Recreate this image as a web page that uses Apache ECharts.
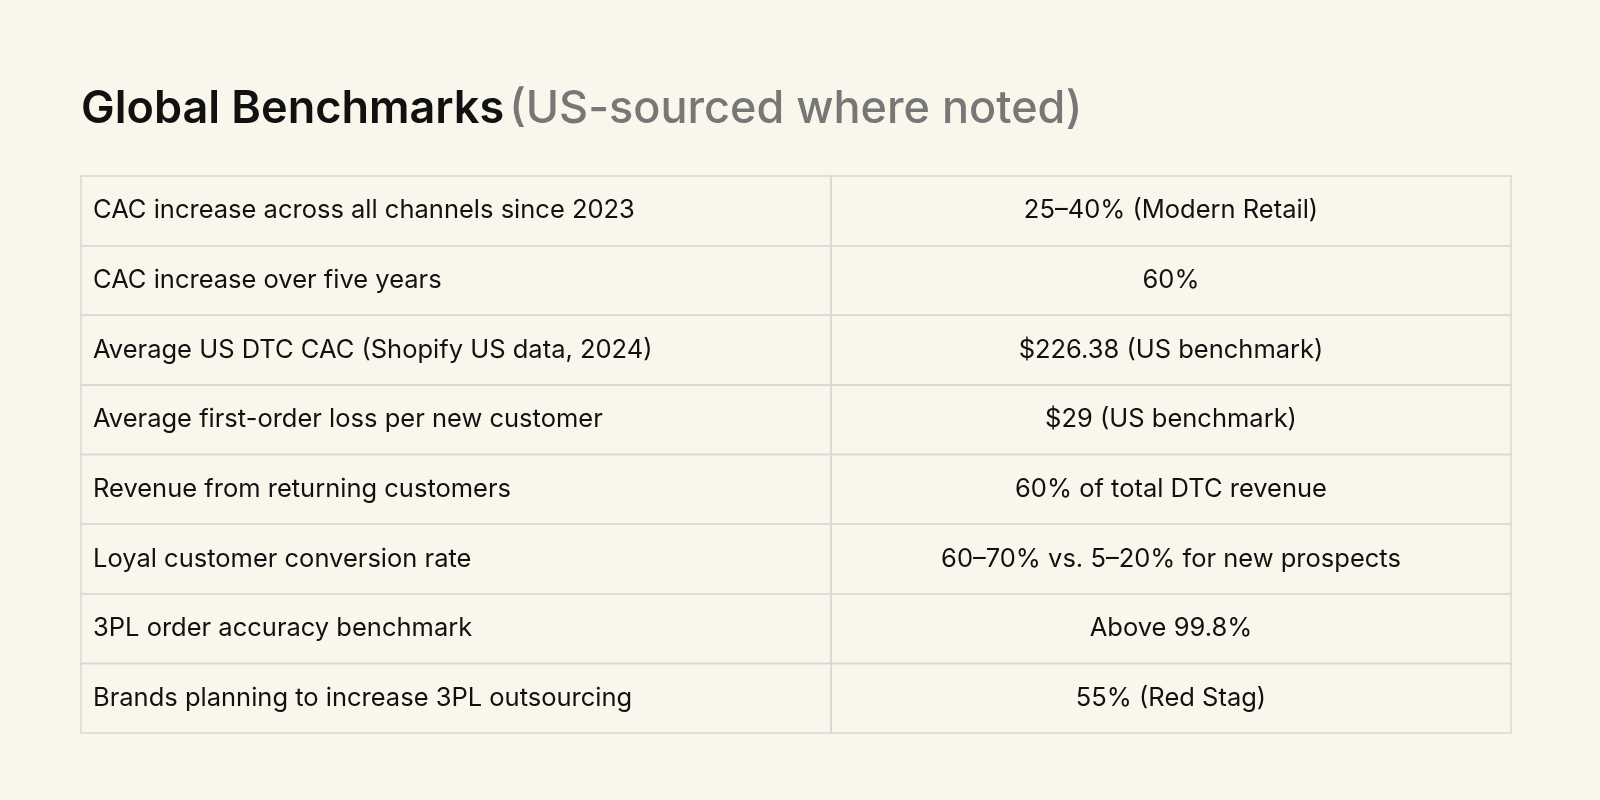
<!DOCTYPE html>
<html><head><meta charset="utf-8">
<script src="https://cdn.jsdelivr.net/npm/echarts@6/dist/echarts.min.js"></script>
<style>html,body{margin:0;background:#f9f7ec}#c{width:1600px;height:800px}</style>
</head><body><div id="c"></div>
<script>
const metrics = ["CAC increase across all channels since 2023","CAC increase over five years","Average US DTC CAC (Shopify US data, 2024)","Average first-order loss per new customer","Revenue from returning customers","Loyal customer conversion rate","3PL order accuracy benchmark","Brands planning to increase 3PL outsourcing"];
const values = ["25–40% (Modern Retail)","60%","$226.38 (US benchmark)","$29 (US benchmark)","60% of total DTC revenue","60–70% vs. 5–20% for new prospects","Above 99.8%","55% (Red Stag)"];
const split = (831-81)/(1511-81);
const font = '"Inter", "Noto Sans", sans-serif';
const chart = echarts.init(document.getElementById('c'));
chart.setOption({
  backgroundColor:'#f9f7ec',
  title:{left:76,top:82,text:'{a|Global Benchmarks} {b|(US-sourced where noted)}',
    textStyle:{rich:{a:{fontSize:45,fontWeight:600,color:'#111',fontFamily:font},b:{fontSize:45,fontWeight:500,color:'#777',fontFamily:font}}}},
  grid:{left:81,right:89,top:176,height:557},
  xAxis:{type:'value',min:0,max:1,show:false},
  yAxis:{type:'category',data:metrics,inverse:true,show:false},
  series:[{type:'custom',data:metrics.map((m,i)=>[i]),
    renderItem:(params,api)=>{
      const i=api.value(0);
      const x0=api.coord([0,i])[0], xs=api.coord([split,i])[0], x1=api.coord([1,i])[0];
      const h=api.size([0,1])[1], yc=api.coord([0,i])[1], y0=yc-h/2;
      const st={fill:'none',stroke:'#d8d8d4',lineWidth:1.5};
      return {type:'group',children:[
        {type:'rect',shape:{x:x0,y:y0,width:xs-x0,height:h},style:st},
        {type:'rect',shape:{x:xs,y:y0,width:x1-xs,height:h},style:st},
        {type:'text',style:{x:x0+12,y:yc,text:metrics[i],fill:'#111',font:'400 25.5px '+font,verticalAlign:'middle',align:'left'}},
        {type:'text',style:{x:(xs+x1)/2,y:yc,text:values[i],fill:'#111',font:'400 25.5px '+font,verticalAlign:'middle',align:'center'}}
      ]};
    }}]
});
</script></body></html>
